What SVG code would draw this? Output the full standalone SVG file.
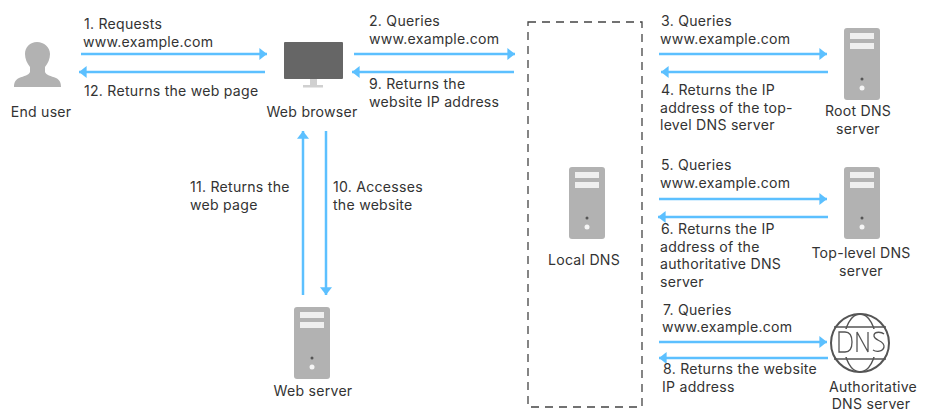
<svg xmlns="http://www.w3.org/2000/svg" width="925" height="410" viewBox="0 0 925 410">
<style>
text{font-family:"Inter","Noto Sans",sans-serif;font-size:14.1px;letter-spacing:.25px;fill:#333;}
.m{text-anchor:middle;}
.c line{stroke:#5cc0ff;stroke-width:2.5;fill:none;}
.b{fill:#b2b2b2;}
.s{fill:#efefef;}
</style>
<defs>
<marker id="a" markerWidth="10" markerHeight="12" refX="7" refY="5.5" orient="auto" markerUnits="userSpaceOnUse" viewBox="0 0 8 11"><path d="M0 0L7 5.5L0 11Z" fill="#5cc0ff"/></marker>
<g id="srv">
<rect x="0" y="0" width="36" height="72" rx="3" class="b"/>
<rect x="6" y="5" width="24" height="6" class="s"/>
<rect x="6" y="15" width="24" height="6" class="s"/>
<circle cx="18" cy="51" r="1.5" fill="#555"/>
<circle cx="18" cy="60" r="2.5" fill="#f5f5f5"/>
</g>
</defs>
<rect width="925" height="410" fill="#fff"/>
<g class="c" id="connectors">
<line x1="81" y1="54" x2="267" y2="54" marker-end="url(#a)"/>
<line x1="265" y1="72" x2="79" y2="72" marker-end="url(#a)"/>
<line x1="354" y1="54" x2="515" y2="54" marker-end="url(#a)"/>
<line x1="514" y1="72" x2="352" y2="72" marker-end="url(#a)"/>
<line x1="659" y1="54" x2="827" y2="54" marker-end="url(#a)"/>
<line x1="828" y1="72" x2="661" y2="72" marker-end="url(#a)"/>
<line x1="659" y1="199" x2="827" y2="199" marker-end="url(#a)"/>
<line x1="828" y1="217" x2="658" y2="217" marker-end="url(#a)"/>
<line x1="659" y1="342" x2="827" y2="342" marker-end="url(#a)"/>
<line x1="828" y1="358" x2="659" y2="358" marker-end="url(#a)"/>
<line x1="303" y1="295" x2="303" y2="131" marker-end="url(#a)"/>
<line x1="326" y1="131" x2="326" y2="295" marker-end="url(#a)"/>
</g>
<g id="end-user">
<path d="M37 42c-7 0-12 5-12 12 0 5 2 9 5 13v5c-1 3-6 4-11 6-4 2-5 5-5 9h47c0-4-1-7-5-9-5-2-10-3-11-6v-5c3-4 5-8 5-13 0-7-6-12-13-12z" class="b"/>
<text class="m" x="41" y="117">End user</text>
</g>
<g id="web-browser">
<rect x="284" y="42" width="59" height="37" rx="1" fill="#666"/>
<rect x="310" y="79" width="7" height="7" fill="#d0d0d0"/>
<rect x="303" y="85" width="20" height="2.5" fill="#d0d0d0"/>
<text class="m" x="312" y="117">Web browser</text>
</g>
<g id="local-dns">
<rect x="528" y="22" width="114" height="385" fill="none" stroke="#444" stroke-width="1.3" stroke-dasharray="8 6"/>
<use href="#srv" x="569" y="167"/>
<text class="m" x="584" y="265">Local DNS</text>
</g>
<g id="root-dns">
<use href="#srv" x="844" y="28"/>
<text class="m" x="858" y="116">Root DNS</text>
<text class="m" x="858" y="134">server</text>
</g>
<g id="tld-dns">
<use href="#srv" x="844" y="167"/>
<text class="m" x="861" y="258">Top-level DNS</text>
<text class="m" x="861" y="276">server</text>
</g>
<g id="auth-dns">
<circle cx="860" cy="343" r="29" fill="none" stroke="#555" stroke-width="2"/>
<ellipse cx="860" cy="343" rx="16" ry="29" fill="none" stroke="#555" stroke-width="1.5"/>
<rect x="838" y="329" width="44" height="28" fill="#fff" stroke="none"/>
<path d="M834 327H886M834 359H886" stroke="#555" stroke-width="1.5"/>
<path d="M839 332h6c5 0 7 4 7 10s-2 10-7 10h-6zM857 352V332L868 352V332M884 334c-2-2-9-3-10 1-1 6 11 5 10 12-1 5-8 5-11 3" fill="none" stroke="#555" stroke-width="1.3"/>
<text class="m" x="873" y="391.500">Authoritative</text>
<text class="m" x="871" y="408.700">DNS server</text>
</g>
<g id="web-server">
<use href="#srv" x="294" y="307"/>
<text class="m" x="313" y="396">Web server</text>
</g>
<g id="labels">
<text x="84" y="29">1. Requests</text>
<text x="83" y="47">www.example.com</text>
<text x="84" y="96">12. Returns the web page</text>
<text x="369" y="26">2. Queries</text>
<text x="369" y="44">www.example.com</text>
<text x="369" y="89">9. Returns the</text>
<text x="369" y="106.500">website IP address</text>
<text x="661" y="26">3. Queries</text>
<text x="660" y="44">www.example.com</text>
<text x="661" y="95">4. Returns the IP</text>
<text x="660" y="112.500">address of the top-</text>
<text x="660" y="130">level DNS server</text>
<text x="661" y="170">5. Queries</text>
<text x="660" y="188">www.example.com</text>
<text x="661" y="234">6. Returns the IP</text>
<text x="660" y="251.500">address of the</text>
<text x="660" y="269">authoritative DNS</text>
<text x="660" y="286.500">server</text>
<text x="663" y="314.500">7. Queries</text>
<text x="662" y="332">www.example.com</text>
<text x="663" y="374">8. Returns the website</text>
<text x="662" y="391.500">IP address</text>
<text x="190" y="192">11. Returns the</text>
<text x="190" y="210">web page</text>
<text x="333" y="192">10. Accesses</text>
<text x="333" y="210">the website</text>
</g>
</svg>
